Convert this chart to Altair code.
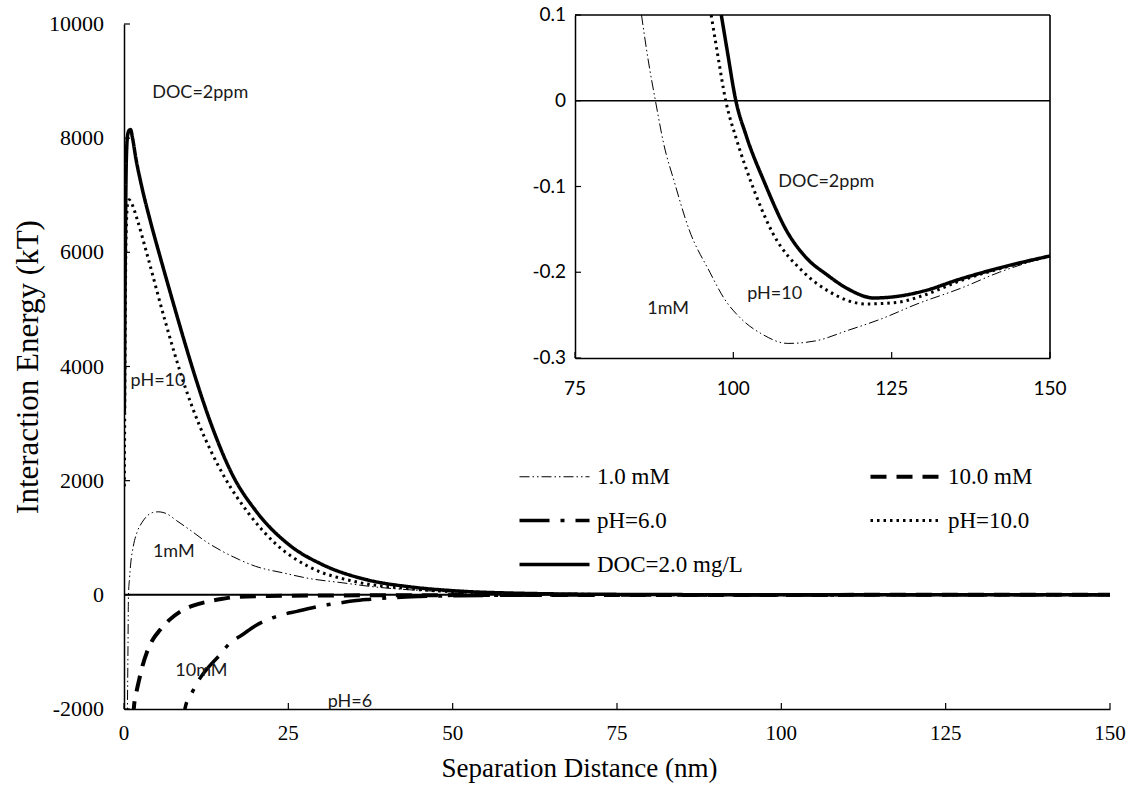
import altair as alt
import pandas as pd

# ---------------- data ----------------
SERIES = ["1.0 mM", "10.0 mM", "pH=6.0", "pH=10.0", "DOC=2.0 mg/L"]

# main panel (nm, kT)
mm1_x = [0.45, 0.6, 0.68, 0.85, 1.0, 1.4, 2.0, 2.7, 3.5, 4.3, 5.2, 6.5, 8.0, 10.0, 12.5,
         15.0, 17.6, 20.0, 24.2, 28.0, 33.3, 38.0, 43.5, 50, 60, 75, 100, 150]
mm1_y = [-3000, -1000, 0, 300, 520, 841, 1100, 1261, 1380, 1440, 1454, 1420, 1300, 1140, 930,
         760, 613, 500, 385, 290, 210, 140, 88, 50, 20, 5, 0, 0]

mm10_x = [1.3, 1.5, 1.9, 2.3, 2.8, 3.45, 4.3, 5.5, 7.0, 8.5, 10.5, 12.6, 15.0, 17.2, 22, 30,
          40, 50, 75, 100, 150]
mm10_y = [-2600, -1980, -1700, -1490, -1250, -1016, -800, -613, -430, -298, -190, -123, -70,
          -35, -20, -12, -8, -5, -2, -1, 0]

ph6_x = [8.9, 9.3, 10.4, 11.6, 13.0, 14.6, 16.0, 18.0, 20.0, 22.0, 24.0, 26.3, 28.5, 30.9,
         32.9, 35.0, 37.5, 40.0, 45, 50, 55, 60, 75, 100, 150]
ph6_y = [-2400, -1980, -1700, -1454, -1250, -1051, -858, -700, -540, -430, -350, -290, -230,
         -175, -140, -105, -78, -55, -30, -18, -10, -6, -2, -1, 0]

ph10_x = [0.05, 0.15, 0.3, 0.55, 0.8, 1.2, 2.0, 3.45, 6.2, 9.3, 11.4, 13.3, 15.4, 19.0, 23.3,
          28.0, 35.0, 43.0, 50, 60, 75, 100, 150]
ph10_y = [1900, 4000, 6200, 6850, 6920, 6850, 6580, 5990, 4820, 3640, 2990, 2500, 2040, 1420,
          870, 500, 235, 110, 55, 22, 6, 1, 0]

doc_x = [0.05, 0.2, 0.35, 0.55, 0.8, 1.0, 1.3, 1.8, 2.7, 4.0, 5.5, 7.0, 8.2, 9.5, 10.8, 13.1,
         16.6, 20.0, 25.3, 30.0, 37.0, 43.5, 50, 60, 75, 100, 150]
doc_y = [3200, 6000, 7600, 8050, 8140, 8150, 8000, 7650, 7150, 6550, 5920, 5310, 4830, 4320,
         3830, 3040, 2080, 1480, 860, 540, 263, 140, 73, 28, 8, 1, 0]

# inset panel (nm, kT)
in_mm1_x = [85.5, 86.5, 87.7, 89.0, 90.7, 93.0, 96.3, 98.5, 101.2, 104.5, 108.6, 113.0, 118.0,
            123.5, 129.0, 135.8, 142.0, 150]
in_mm1_y = [0.1, 0.05, 0.0, -0.05, -0.095, -0.150, -0.200, -0.230, -0.254, -0.272, -0.283,
            -0.280, -0.268, -0.254, -0.237, -0.219, -0.200, -0.181]
in_ph10_x = [96.5, 97.5, 98.8, 100.5, 102.8, 106.2, 111.1, 115.0, 121.0, 126.0, 130.0, 135.8,
             142.0, 150]
in_ph10_y = [0.1, 0.055, 0.0, -0.045, -0.095, -0.154, -0.200, -0.222, -0.237, -0.235, -0.227,
             -0.210, -0.196, -0.181]
in_doc_x = [98.1, 99.0, 100.4, 102.0, 104.9, 108.6, 111.5, 114.8, 118.0, 122.2, 126.0, 130.0,
            135.8, 142.0, 150]
in_doc_y = [0.1, 0.06, 0.0, -0.040, -0.095, -0.154, -0.183, -0.203, -0.219, -0.230, -0.228,
            -0.222, -0.208, -0.195, -0.181]

# axes
main_x_domain = [0, 150]
main_y_domain = [-2000, 10000]
main_x_ticks = [0, 25, 50, 75, 100, 125, 150]
main_y_ticks = [-2000, 0, 2000, 4000, 6000, 8000, 10000]
main_x_labels = ["0", "25", "50", "75", "100", "125", "150"]
main_y_labels = ["-2000", "0", "2000", "4000", "6000", "8000", "10000"]
inset_x_domain = [75, 150]
inset_y_domain = [-0.3, 0.1]
inset_x_ticks = [75, 100, 125, 150]
inset_y_ticks = [-0.3, -0.2, -0.1, 0, 0.1]
inset_x_labels = ["75", "100", "125", "150"]
inset_y_labels = ["-0.3", "-0.2", "-0.1", "0", "0.1"]

# annotations
main_ann_text = ["DOC=2ppm", "pH=10", "1mM", "10mM", "pH=6"]
main_ann_x = [4.3, 1.0, 4.4, 7.8, 31.0]
main_ann_y = [8800, 3750, 750, -1330, -1870]
inset_ann_text = ["DOC=2ppm", "pH=10", "1mM"]
inset_ann_x = [107.1, 102.2, 86.4]
inset_ann_y = [-0.095, -0.225, -0.243]

# ---------------- styling ----------------
STYLE = {
    "1.0 mM": (1.0, [10, 3, 1.5, 3, 1.5, 3]),
    "10.0 mM": (4.0, [16, 10]),
    "pH=6.0": (3.5, [30, 11, 4, 11]),
    "pH=10.0": (3.0, [2.5, 4]),
    "DOC=2.0 mg/L": (3.5, [1, 0]),
}
W, H = 986, 685
INSET_X_RANGE = [451, 926]
INSET_Y_RANGE = [334, -9]
SERIF = "Liberation Serif"
SANS = "Lato"


def frame(xs, ys, name):
    return pd.DataFrame({"x": xs, "y": ys, "series": name})


main_df = pd.concat([
    frame(mm1_x, mm1_y, "1.0 mM"),
    frame(mm10_x, mm10_y, "10.0 mM"),
    frame(ph6_x, ph6_y, "pH=6.0"),
    frame(ph10_x, ph10_y, "pH=10.0"),
    frame(doc_x, doc_y, "DOC=2.0 mg/L"),
], ignore_index=True)

inset_df = pd.concat([
    frame(in_mm1_x, in_mm1_y, "1.0 mM"),
    frame(in_ph10_x, in_ph10_y, "pH=10.0"),
    frame(in_doc_x, in_doc_y, "DOC=2.0 mg/L"),
], ignore_index=True)

dash_scale = alt.Scale(domain=SERIES, range=[STYLE[s][1] for s in SERIES])
width_expr = " : ".join(
    f"datum.value == '{s}' ? {STYLE[s][0]}" for s in SERIES
) + " : 2"

legend = alt.Legend(
    title=None, orient="none", legendX=419, legendY=441, columns=2, direction="horizontal",
    symbolType="stroke", symbolSize=4900, symbolStrokeColor="black",
    symbolStrokeWidth=alt.ExprRef(width_expr),
    labelFont=SERIF, labelFontSize=23, labelColor="black", labelOffset=31,
    labelLimit=400, rowPadding=20, columnPadding=119, padding=0,
)

X_MAIN = alt.X("x:Q", scale=alt.Scale(domain=main_x_domain, nice=False, zero=False),
               axis=alt.Axis(values=main_x_ticks, title="Separation Distance (nm)",
                             titleFont=SERIF, titleFontSize=27, titleFontWeight="normal",
                             titleX=455, titleAlign="center",
                             labels=False, ticks=False, titlePadding=46, domainWidth=1.5))
Y_MAIN = alt.Y("y:Q", scale=alt.Scale(domain=main_y_domain, nice=False, zero=False),
               axis=alt.Axis(values=main_y_ticks, title="Interaction Energy (kT)",
                             titleFont=SERIF, titleFontSize=31, titleFontWeight="normal",
                             labels=False, ticks=False, titlePadding=80, domainWidth=1.5))

X_IN = alt.X("x:Q", scale=alt.Scale(domain=inset_x_domain, range=INSET_X_RANGE, nice=False, zero=False),
             axis=alt.Axis(values=inset_x_ticks, title=None, orient="bottom", offset=-(H - INSET_Y_RANGE[0]),
                           labels=False, ticks=False, domainWidth=1.5))
Y_IN = alt.Y("y:Q", scale=alt.Scale(domain=inset_y_domain, range=INSET_Y_RANGE, nice=False, zero=False),
             axis=alt.Axis(values=inset_y_ticks, title=None, orient="left", offset=-INSET_X_RANGE[0],
                           labels=False, ticks=False, domainWidth=1.5))


def lines(df, xenc, yenc, names, clip):
    out = []
    for s in names:
        w, _ = STYLE[s]
        out.append(
            alt.Chart(df).transform_filter(alt.datum.series == s)
            .mark_line(color="black", strokeWidth=w, clip=clip, interpolate="monotone")
            .encode(x=xenc, y=yenc,
                    strokeDash=alt.StrokeDash("series:N", scale=dash_scale, legend=legend))
        )
    return out


def tick_labels(xs, ys, texts, xenc, yenc, font, size, **kw):
    return alt.Chart(pd.DataFrame({"x": xs, "y": ys, "t": texts})) \
        .mark_text(font=font, fontSize=size, color="black", **kw) \
        .encode(x=xenc, y=yenc, text="t:N")


# ---- main panel ----
main_lines = lines(main_df, X_MAIN, Y_MAIN, SERIES, True)
zero_main = alt.Chart(pd.DataFrame({"x": [main_x_domain[0]], "x2": [main_x_domain[1]], "y": [0]})) \
    .mark_rule(color="black", strokeWidth=2).encode(x=X_MAIN, x2="x2:Q", y=Y_MAIN)
ytick_main = alt.Chart(pd.DataFrame({"y": main_y_ticks})).mark_rule(color="black", strokeWidth=1.2) \
    .encode(y=Y_MAIN, x=alt.value(0), x2=alt.value(6))
xtick_main = alt.Chart(pd.DataFrame({"x": main_x_ticks})).mark_rule(color="black", strokeWidth=1.2) \
    .encode(x=X_MAIN, y=alt.value(H), y2=alt.value(H - 6))
ylab_main = tick_labels([main_x_domain[0]] * len(main_y_ticks), main_y_ticks, main_y_labels,
                        X_MAIN, Y_MAIN, SERIF, 22, align="right", baseline="middle", dx=-20)
xlab_main = tick_labels(main_x_ticks, [main_y_domain[0]] * len(main_x_ticks), main_x_labels,
                        X_MAIN, Y_MAIN, SERIF, 21, align="center", baseline="middle", dy=25)
text_main = alt.Chart(pd.DataFrame({"x": main_ann_x, "y": main_ann_y, "t": main_ann_text})) \
    .mark_text(font=SANS, fontSize=18, align="left", baseline="middle", color="#1a1a1a") \
    .encode(x=X_MAIN, y=Y_MAIN, text="t:N")
main = alt.layer(*main_lines, zero_main, ytick_main, xtick_main, ylab_main, xlab_main, text_main)

# ---- inset panel ----
inset_lines = lines(inset_df, X_IN, Y_IN, ["1.0 mM", "pH=10.0", "DOC=2.0 mg/L"], False)
box_h = alt.Chart(pd.DataFrame({"x": [inset_x_domain[0]] * 2, "x2": [inset_x_domain[1]] * 2,
                                "y": [inset_y_domain[1], 0]})) \
    .mark_rule(color="black", strokeWidth=1.6).encode(x=X_IN, x2="x2:Q", y=Y_IN)
box_v = alt.Chart(pd.DataFrame({"x": [inset_x_domain[1]], "y": [inset_y_domain[0]],
                                "y2": [inset_y_domain[1]]})) \
    .mark_rule(color="black", strokeWidth=1.6).encode(x=X_IN, y=Y_IN, y2="y2:Q")
ytick_in = alt.Chart(pd.DataFrame({"y": inset_y_ticks})).mark_rule(color="black", strokeWidth=1.2) \
    .encode(y=Y_IN, x=alt.value(INSET_X_RANGE[0]), x2=alt.value(INSET_X_RANGE[0] + 6))
xtick_in = alt.Chart(pd.DataFrame({"x": inset_x_ticks})).mark_rule(color="black", strokeWidth=1.2) \
    .encode(x=X_IN, y=alt.value(INSET_Y_RANGE[0]), y2=alt.value(INSET_Y_RANGE[0] - 6))
ylab_in = tick_labels([inset_x_domain[0]] * len(inset_y_ticks), inset_y_ticks, inset_y_labels,
                      X_IN, Y_IN, SANS, 19, align="right", baseline="middle", dx=-9)
xlab_in = tick_labels(inset_x_ticks, [inset_y_domain[0]] * len(inset_x_ticks), inset_x_labels,
                      X_IN, Y_IN, SANS, 19, align="center", baseline="middle", dy=31)
text_in = alt.Chart(pd.DataFrame({"x": inset_ann_x, "y": inset_ann_y, "t": inset_ann_text})) \
    .mark_text(font=SANS, fontSize=18, align="left", baseline="middle", color="#1a1a1a") \
    .encode(x=X_IN, y=Y_IN, text="t:N")
inset = alt.layer(*inset_lines, box_h, box_v, ytick_in, xtick_in, ylab_in, xlab_in, text_in)

chart = alt.layer(main, inset).resolve_scale(x="independent", y="independent").properties(
    width=W, height=H,
    autosize=alt.AutoSizeParams(type="none"),
    padding={"left": 124, "top": 24, "right": 20, "bottom": 88},
    background="white",
).configure_view(stroke=None).configure_axis(
    grid=False, domainColor="black", labelColor="black", titleColor="black"
)

chart.save("out.html", embed_options={"renderer": "svg", "actions": False})
